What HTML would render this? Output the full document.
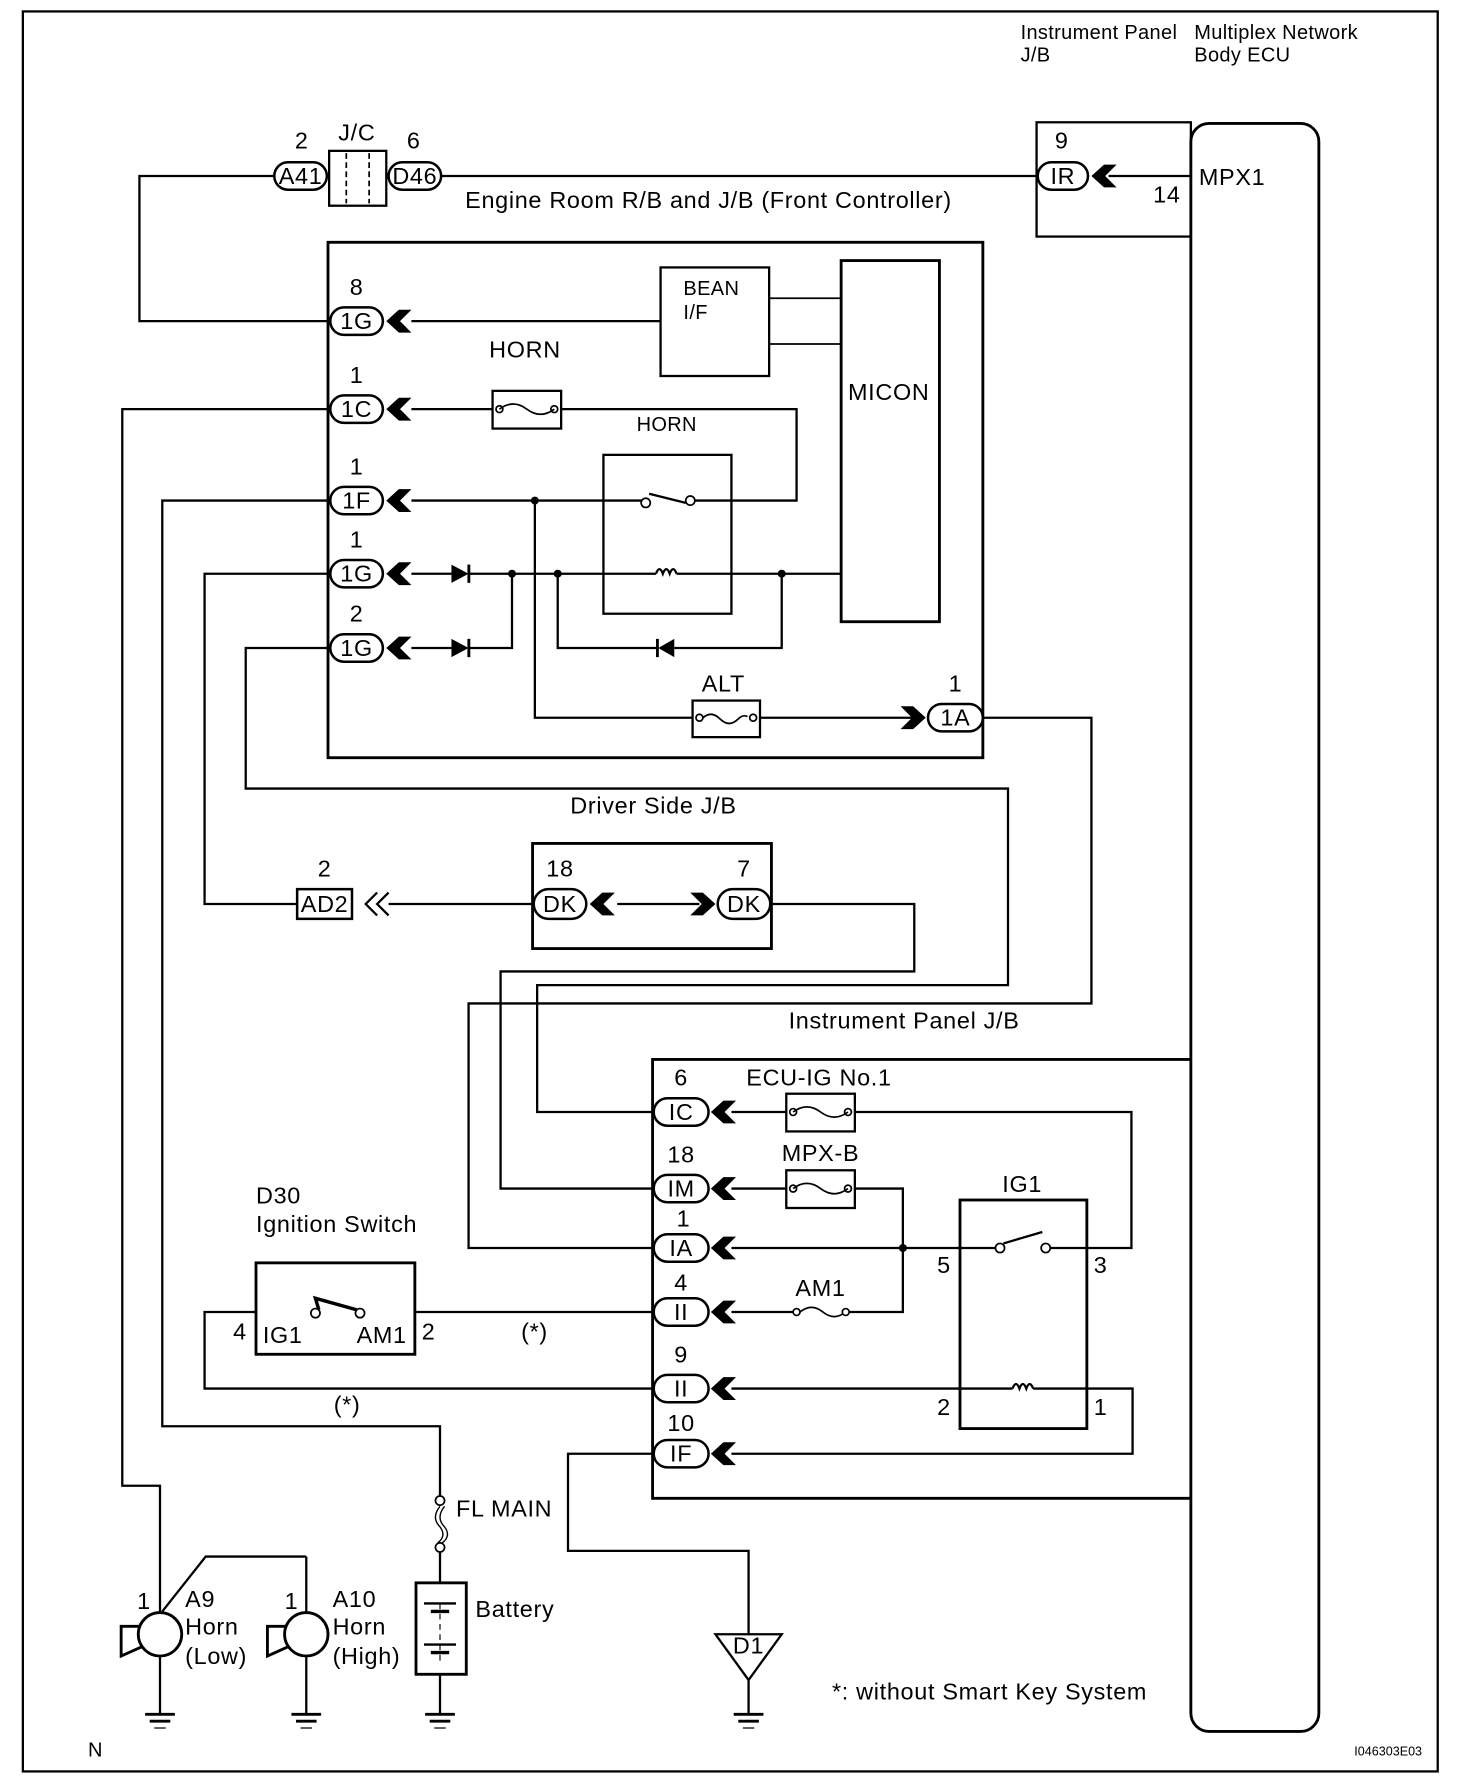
<!DOCTYPE html>
<html><head><meta charset="utf-8"><style>
html,body{margin:0;padding:0;background:#fff}
svg{display:block}
text{font-family:"Liberation Sans",Arial,sans-serif;font-size:20.5px;letter-spacing:0.6px;fill:#000}
.s{font-size:17.5px;letter-spacing:0.3px}
</style></head><body>
<svg width="1472" height="1792" viewBox="0 0 1288 1568" preserveAspectRatio="none" xmlns="http://www.w3.org/2000/svg">
<defs>
<path id="chl" d="M0,0 L11,-10 L22,-10 L12,0 L22,10 L11,10 Z" fill="#000"/>
<path id="chr" d="M0,0 L-11,-10 L-22,-10 L-12,0 L-22,10 L-11,10 Z" fill="#000"/>
</defs>
<g fill="none" stroke="#000" stroke-width="2">
<rect x="20" y="10" width="1238" height="1540" stroke-width="2"/>
<rect x="1042" y="108" width="112" height="1407" rx="16" stroke-width="2.5"/>
<rect x="907" y="107" width="135" height="100" stroke-width="2"/>
<rect x="287" y="212" width="573" height="451" stroke-width="2.5"/>
<rect x="466" y="738" width="209" height="92" stroke-width="2.5"/>
<path d="M1042,927 H571 V1311 H1042" stroke-width="2.5"/>
<path d="M386,154 H907"/>
<path d="M239,154 H122 V281 H289"/>
<path d="M970,154 H1042"/>
<rect x="288" y="132" width="50" height="48" stroke-width="2"/>
<path d="M303,134 V178 M323,134 V178" stroke-dasharray="5,3" stroke-width="1.5"/>
<rect x="578" y="234" width="95" height="95" stroke-width="2"/>
<rect x="736" y="228" width="86" height="316" stroke-width="2.5"/>
<path d="M673,261 H736 M673,301 H736" stroke-width="1.5"/>
<path d="M360,281 H578"/>
<path d="M360,358 H431 M491,358 H697 V438 H604"/>
<rect x="431" y="342" width="60" height="33" stroke-width="2"/>
<rect x="528" y="398" width="112" height="139" stroke-width="2"/>
<path d="M360,438 H565 M568,432 L600,440"/>
<path d="M360,502 H395 M410,502 H574 M592,502 H736"/>
<path d="M574,502 q3,-8 6,0 q3,-8 6,0 q3,-8 6,0" />
<path d="M360,567 H395 M410,567 H448 V502 M488,502 V567 H576 M590,567 H684 V502"/>
<path d="M468,438 V628 H606 M665,628 H800 M860,628 H955 V878 H410 V1092 H572"/>
<rect x="606" y="613" width="59" height="32" stroke-width="2"/>
<path d="M614,629 q8,-8 16,0 q8,8 16,0 q4,-4 8,-2" stroke-width="1.5"/>
<path d="M289,358 H107 V1300 H140 V1410"/>
<path d="M289,438 H142 V1248 H385 V1310"/>
<path d="M289,502 H179 V791 H260"/>
<path d="M340,791 H466"/>
<path d="M289,567 H215 V690 H882 V862 H470 V973 H572"/>
<path d="M676,791 H800 V850 H438 V1040 H572"/>
<path d="M540,791 H612"/>
<path d="M640,973 H688 M748,973 H990 V1092 H915"/>
<rect x="688" y="957" width="60" height="33" stroke-width="2"/>
<path d="M640,1040 H688 M748,1040 H790 V1148 H740 M696,1148 H640"/>
<rect x="688" y="1024" width="60" height="33" stroke-width="2"/>
<path d="M640,1092 H875 M878,1088 L912,1078"/>
<rect x="840" y="1050" width="111" height="200" stroke-width="2.5"/>
<path d="M640,1215 H886 M904,1215 H991 V1272 H640"/>
<path d="M886,1215 q3,-8 6,0 q3,-8 6,0 q3,-8 6,0"/>
<path d="M700,1148 q10,-8 20,0 q10,8 20,0" stroke-width="1.5"/>
<path d="M572,1148 H363 M224,1148 H179 V1215 H572"/>
<rect x="224" y="1105" width="139" height="80" stroke-width="2.5"/>
<path d="M279,1146 L276,1136 L312,1146" stroke-width="3"/>
<path d="M572,1272 H497 V1357 H655 V1430"/>
<path d="M655,1470 V1500"/>
<path d="M626,1430 H684 L655,1470 Z" stroke-width="2"/>
<path d="M385,1318 q-8,10 0,18 q6,8 -2,14 M389,1318 q-8,10 0,18 q6,8 -2,14" stroke-width="1.2"/>
<path d="M385,1358 V1385 M385,1465 V1500"/>
<rect x="364" y="1385" width="44" height="80" stroke-width="2.5"/>
<path d="M385,1403 V1455" stroke-dasharray="5,4" stroke-width="1"/>
<path d="M371,1403 H399 M371,1439 H399"/>
<path d="M377,1410 H393 M377,1446 H393" stroke-width="3"/>
<path d="M140,1449 V1500 M268,1362 V1411 M268,1449 V1500"/>
<path d="M142,1410 L180,1362 H268"/>
<circle cx="140" cy="1430" r="19" stroke-width="2.5"/>
<circle cx="268" cy="1430" r="19" stroke-width="2.5"/>
<path d="M122,1423 H106 V1449 L124,1441" stroke-width="2.5"/>
<path d="M250,1423 H234 V1449 L252,1441" stroke-width="2.5"/>
<g stroke-width="2.5">
<path d="M127,1500 H153 M131,1506 H149"/><path d="M255,1500 H281 M259,1506 H277"/>
<path d="M372,1500 H398 M376,1506 H394"/><path d="M642,1500 H668 M646,1506 H664"/>
</g>
<path d="M135,1512 H145 M263,1512 H273 M380,1512 H390 M650,1512 H660" stroke-width="1"/>
<g stroke-width="2.2" fill="#fff">
<rect x="240" y="142" width="46" height="24" rx="12"/>
<rect x="340" y="142" width="46" height="24" rx="12"/>
<rect x="908" y="142" width="44" height="24" rx="12"/>
<rect x="289" y="269" width="46" height="24" rx="12"/>
<rect x="289" y="346" width="46" height="24" rx="12"/>
<rect x="289" y="426" width="46" height="24" rx="12"/>
<rect x="289" y="490" width="46" height="24" rx="12"/>
<rect x="289" y="555" width="46" height="24" rx="12"/>
<rect x="812" y="616" width="48" height="24" rx="12"/>
<rect x="467" y="778" width="46" height="26" rx="13"/>
<rect x="628" y="778" width="46" height="26" rx="13"/>
<rect x="260" y="778" width="48" height="26"/>
<rect x="572" y="961" width="48" height="24" rx="12"/>
<rect x="572" y="1028" width="48" height="24" rx="12"/>
<rect x="572" y="1080" width="48" height="24" rx="12"/>
<rect x="572" y="1136" width="48" height="24" rx="12"/>
<rect x="572" y="1203" width="48" height="24" rx="12"/>
<rect x="572" y="1260" width="48" height="24" rx="12"/>
</g>
<path d="M330,781 L320,791 L330,801 M340,781 L330,791 L340,801" stroke-width="2"/>
<g fill="#fff" stroke-width="1.5">
<circle cx="565" cy="440" r="4"/><circle cx="604" cy="438" r="4"/>
<circle cx="875" cy="1092" r="4"/><circle cx="915" cy="1092" r="4"/>
<circle cx="276" cy="1149" r="4"/><circle cx="315" cy="1149" r="4"/>
<circle cx="437" cy="358" r="3"/><circle cx="485" cy="358" r="3"/>
<circle cx="694" cy="973" r="3"/><circle cx="742" cy="973" r="3"/>
<circle cx="694" cy="1040" r="3"/><circle cx="742" cy="1040" r="3"/>
<circle cx="697" cy="1148" r="3"/><circle cx="740" cy="1148" r="3"/>
<circle cx="612" cy="628" r="3"/><circle cx="659" cy="628" r="3"/>
<circle cx="385" cy="1313" r="4"/><circle cx="385" cy="1354" r="4"/>
</g>
<path d="M437,358 q12,-9 24,0 q12,9 24,0 M694,973 q12,-9 24,0 q12,9 24,0 M694,1040 q12,-9 24,0 q12,9 24,0" stroke-width="1.5"/>
</g>
<g fill="#000">
<circle cx="468" cy="438" r="3.5"/><circle cx="448" cy="502" r="3.5"/><circle cx="488" cy="502" r="3.5"/>
<circle cx="684" cy="502" r="3.5"/><circle cx="790" cy="1092" r="3.5"/>
<path d="M395,494 L410,502 L395,510 Z"/>
<path d="M395,559 L410,567 L395,575 Z"/>
<path d="M590,559 L576,567 L590,575 Z"/>
<rect x="409" y="494" width="2.5" height="16"/><rect x="409" y="559" width="2.5" height="16"/><rect x="574" y="559" width="2.5" height="16"/>
<use href="#chl" x="955" y="154"/>
<use href="#chl" x="338" y="281"/><use href="#chl" x="338" y="358"/><use href="#chl" x="338" y="438"/>
<use href="#chl" x="338" y="502"/><use href="#chl" x="338" y="567"/>
<use href="#chr" x="810" y="628"/>
<use href="#chl" x="516" y="791"/><use href="#chr" x="626" y="791"/>
<use href="#chl" x="622" y="973"/><use href="#chl" x="622" y="1040"/><use href="#chl" x="622" y="1092"/>
<use href="#chl" x="622" y="1148"/><use href="#chl" x="622" y="1215"/><use href="#chl" x="622" y="1272"/>
</g>
<text x="893" y="34" class="s">Instrument Panel</text><text x="893" y="54" class="s">J/B</text>
<text x="1045" y="34" class="s">Multiplex Network</text><text x="1045" y="54" class="s">Body ECU</text>
<text x="1049" y="162">MPX1</text>
<text x="923" y="130">9</text><text x="1009" y="177">14</text>
<text x="930" y="161" text-anchor="middle">IR</text>
<text x="263" y="161" text-anchor="middle">A41</text><text x="363" y="161" text-anchor="middle">D46</text>
<text x="258" y="130">2</text><text x="356" y="130">6</text><text x="296" y="123">J/C</text>
<text x="407" y="182">Engine Room R/B and J/B (Front Controller)</text>
<text x="312" y="288" text-anchor="middle">1G</text><text x="312" y="365" text-anchor="middle">1C</text>
<text x="312" y="445" text-anchor="middle">1F</text><text x="312" y="509" text-anchor="middle">1G</text>
<text x="312" y="574" text-anchor="middle">1G</text>
<text x="306" y="258">8</text><text x="306" y="335">1</text><text x="306" y="415">1</text><text x="306" y="479">1</text><text x="306" y="544">2</text>
<text x="598" y="258" class="s">BEAN</text><text x="598" y="279" class="s">I/F</text>
<text x="742" y="350">MICON</text>
<text x="428" y="313">HORN</text><text x="557" y="377" class="s">HORN</text>
<text x="614" y="605">ALT</text>
<text x="836" y="635" text-anchor="middle">1A</text><text x="830" y="605">1</text>
<text x="499" y="712">Driver Side J/B</text>
<text x="490" y="798" text-anchor="middle">DK</text><text x="651" y="798" text-anchor="middle">DK</text>
<text x="478" y="767">18</text><text x="645" y="767">7</text>
<text x="284" y="798" text-anchor="middle">AD2</text><text x="278" y="767">2</text>
<text x="690" y="900">Instrument Panel J/B</text>
<text x="596" y="980" text-anchor="middle">IC</text><text x="596" y="1047" text-anchor="middle">IM</text>
<text x="596" y="1099" text-anchor="middle">IA</text><text x="596" y="1155" text-anchor="middle">II</text>
<text x="596" y="1222" text-anchor="middle">II</text><text x="596" y="1279" text-anchor="middle">IF</text>
<text x="590" y="950">6</text><text x="584" y="1017">18</text><text x="592" y="1073">1</text>
<text x="590" y="1129">4</text><text x="590" y="1192">9</text><text x="584" y="1252">10</text>
<text x="653" y="950">ECU-IG No.1</text><text x="684" y="1016">MPX-B</text>
<text x="696" y="1134">AM1</text><text x="877" y="1043">IG1</text>
<text x="820" y="1114">5</text><text x="957" y="1114">3</text>
<text x="820" y="1238">2</text><text x="957" y="1238">1</text>
<text x="224" y="1053">D30</text><text x="224" y="1078">Ignition Switch</text>
<text x="204" y="1172">4</text><text x="230" y="1175">IG1</text><text x="312" y="1175">AM1</text><text x="369" y="1172">2</text>
<text x="456" y="1172">(*)</text><text x="292" y="1236">(*)</text>
<text x="399" y="1327">FL MAIN</text><text x="416" y="1415">Battery</text>
<text x="120" y="1408">1</text><text x="162" y="1406">A9</text><text x="162" y="1430">Horn</text><text x="162" y="1456">(Low)</text>
<text x="249" y="1408">1</text><text x="291" y="1406">A10</text><text x="291" y="1430">Horn</text><text x="291" y="1456">(High)</text>
<text x="655" y="1447" text-anchor="middle">D1</text>
<text x="728" y="1487">*: without Smart Key System</text>
<text x="77" y="1537" class="s">N</text>
<text x="1185" y="1536" style="font-size:11px;letter-spacing:0">I046303E03</text>
</svg>
</body></html>
